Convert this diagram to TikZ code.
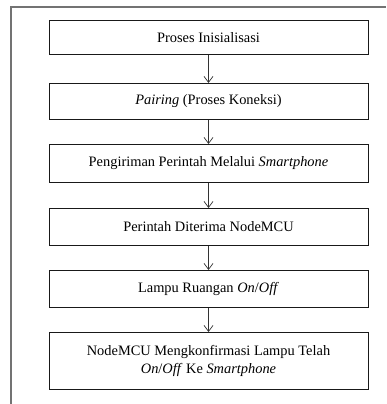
\documentclass[tikz,border=0pt]{standalone}
\usepackage{fontspec}
\setmainfont{Liberation Serif}
\usetikzlibrary{arrows.meta}
\begin{document}
\begin{tikzpicture}[x=1pt,y=1pt,
  stepbox/.style={draw=black!90,line width=0.9pt,minimum width=319pt,inner sep=0pt,align=center,font=\fontsize{14.4}{17.5}\selectfont,anchor=north},
  flow/.style={draw=black!80,line width=0.7pt,-{Straight Barb[length=6pt,width=9pt]}}]
\useasboundingbox (0,0) rectangle (386,404);
\draw[black!55,line width=1.2pt] (11,0) -- (11,397) -- (386,397);
\node[stepbox,minimum height=34pt] (b1) at (208.5,383.5) {Proses Inisialisasi};
\node[stepbox,minimum height=36pt] (b2) at (208.5,321) {\textit{Pairing} (Proses Koneksi)};
\node[stepbox,minimum height=38pt] (b3) at (208.5,260) {Pengiriman Perintah Melalui \textit{Smartphone}};
\node[stepbox,minimum height=37pt] (b4) at (208.5,196) {Perintah Diterima NodeMCU};
\node[stepbox,minimum height=37pt] (b5) at (208.5,134) {Lampu Ruangan \textit{On}/\textit{Off}};
\node[stepbox,minimum height=57pt] (b6) at (208.5,72) {NodeMCU Mengkonfirmasi Lampu Telah\\\textit{On}/\textit{Off} Ke \textit{Smartphone}};
\draw[flow] (b1.south) -- (b2.north);
\draw[flow] (b2.south) -- (b3.north);
\draw[flow] (b3.south) -- (b4.north);
\draw[flow] (b4.south) -- (b5.north);
\draw[flow] (b5.south) -- (b6.north);
\end{tikzpicture}
\end{document}
